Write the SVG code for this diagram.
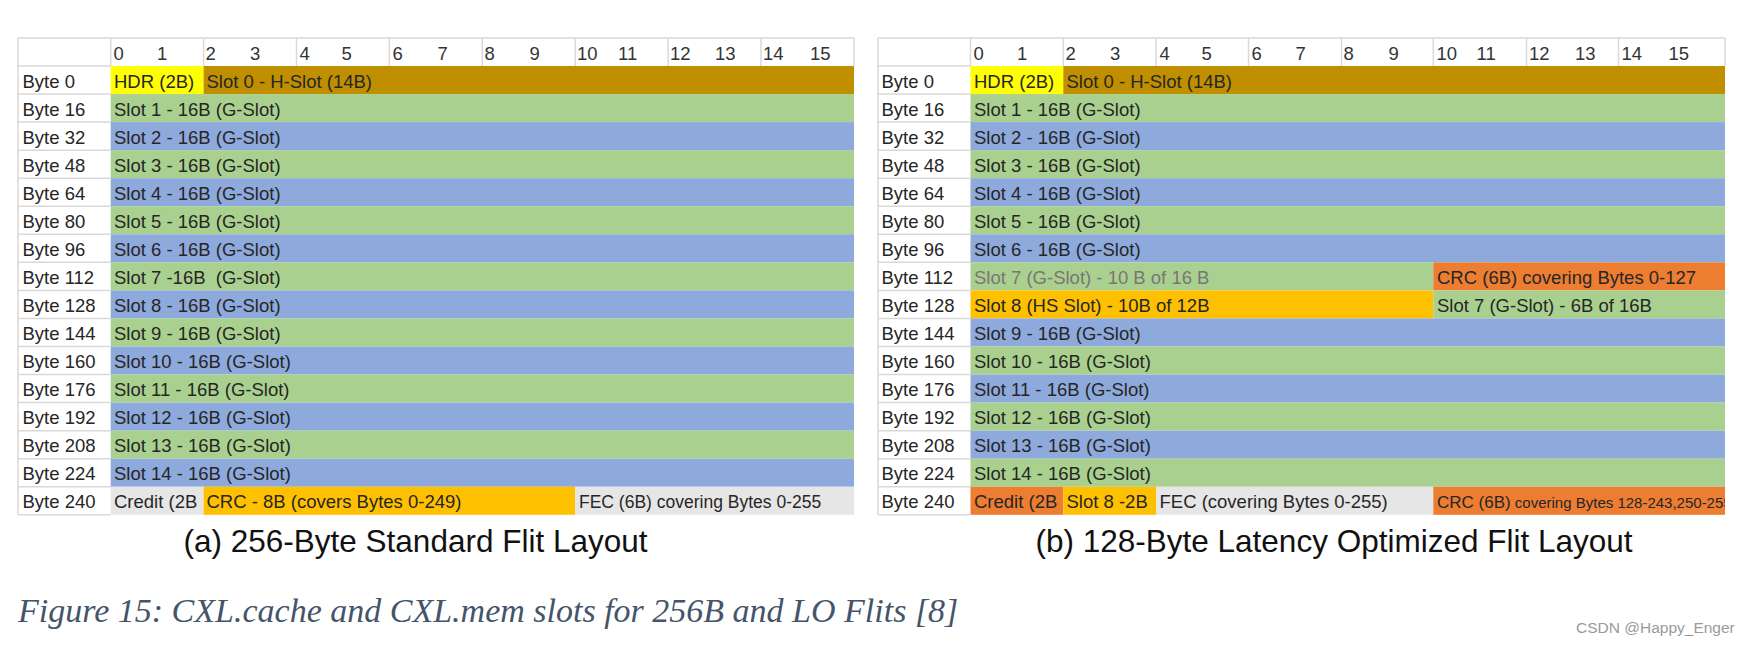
<svg xmlns="http://www.w3.org/2000/svg" width="1750" height="645" viewBox="0 0 1750 645">
<style>
.t{font-family:"Liberation Sans",Arial,sans-serif;font-size:18.5px;fill:#262626}
.hd{fill:#333}
.sm{font-size:17.5px}
.xs{font-size:15px}
.gr{fill:#7A7676}
.cap{font-family:"Liberation Sans",Arial,sans-serif;font-size:31.5px;fill:#111;text-anchor:middle}
.fig{font-family:"Liberation Serif","Times New Roman",serif;font-style:italic;font-size:34px;fill:#44546A}
.wm{font-family:"Liberation Sans",Arial,sans-serif;font-size:15.5px;fill:#9a9a9a}
.G{fill:#A9D08E}.B{fill:#8EA9DB}.Y{fill:#FFFF00}.D{fill:#BF8F00}.O{fill:#ED7D31}.A{fill:#FFC000}.E{fill:#E7E6E6}
.ln{stroke:#D9D9D9;stroke-width:1.5;fill:none}
</style>
<defs>
<clipPath id="clipA"><rect x="110.7" y="486.75" width="92.9" height="28.05"/></clipPath>
<clipPath id="clipB1"><rect x="970.5" y="486.75" width="92.8" height="28.05"/></clipPath>
<clipPath id="clipB2"><rect x="1433.3" y="486.75" width="291.7" height="28.05"/></clipPath>
</defs>
<rect width="1750" height="645" fill="#fff"/>

<!-- ===== Panel (a) ===== -->
<g id="panel-a">
<g id="a-grid">
<rect x="18" y="38" width="836" height="476.8" fill="#fff"/>
<path class="ln" d="M18 38H854M18 38V514.8M18 514.8H110.7M110.7 38V66M203.6 38V66M296.5 38V66M389.4 38V66M482.3 38V66M575.2 38V66M668.1 38V66M761 38V66M854 38V66M18 66H110.7M18 94.05H110.7M18 122.1H110.7M18 150.15H110.7M18 178.2H110.7M18 206.25H110.7M18 234.3H110.7M18 262.35H110.7M18 290.4H110.7M18 318.45H110.7M18 346.5H110.7M18 374.55H110.7M18 402.6H110.7M18 430.65H110.7M18 458.7H110.7M18 486.75H110.7"/>
</g>
<g id="a-header" class="t hd">
<text x="113.5" y="60">0</text><text x="157" y="60">1</text><text x="205.5" y="60">2</text><text x="250" y="60">3</text>
<text x="299.5" y="60">4</text><text x="341.5" y="60">5</text><text x="392.5" y="60">6</text><text x="437.5" y="60">7</text>
<text x="484.5" y="60">8</text><text x="529.5" y="60">9</text><text x="577" y="60">10</text><text x="618" y="60">11</text>
<text x="670" y="60">12</text><text x="715" y="60">13</text><text x="763" y="60">14</text><text x="810" y="60">15</text>
</g>
<g id="a-labels" class="t">
<text x="22.5" y="87.5">Byte 0</text><text x="22.5" y="115.55">Byte 16</text><text x="22.5" y="143.6">Byte 32</text><text x="22.5" y="171.65">Byte 48</text>
<text x="22.5" y="199.7">Byte 64</text><text x="22.5" y="227.75">Byte 80</text><text x="22.5" y="255.8">Byte 96</text><text x="22.5" y="283.85">Byte 112</text>
<text x="22.5" y="311.9">Byte 128</text><text x="22.5" y="339.95">Byte 144</text><text x="22.5" y="368">Byte 160</text><text x="22.5" y="396.05">Byte 176</text>
<text x="22.5" y="424.1">Byte 192</text><text x="22.5" y="452.15">Byte 208</text><text x="22.5" y="480.2">Byte 224</text><text x="22.5" y="508.25">Byte 240</text>
</g>
<g id="a-hdr"><rect class="Y" x="110.7" y="66" width="92.9" height="28.05"/><text class="t" x="114" y="87.5">HDR (2B)</text></g>
<g id="a-slot0"><rect class="D" x="203.6" y="66" width="650.4" height="28.05"/><text class="t" x="206.5" y="87.5">Slot 0 - H-Slot (14B)</text></g>
<g id="a-slot1"><rect class="G" x="110.7" y="94.05" width="743.3" height="28.05"/><text class="t" x="114" y="115.55">Slot 1 - 16B (G-Slot)</text></g>
<g id="a-slot2"><rect class="B" x="110.7" y="122.1" width="743.3" height="28.05"/><text class="t" x="114" y="143.6">Slot 2 - 16B (G-Slot)</text></g>
<g id="a-slot3"><rect class="G" x="110.7" y="150.15" width="743.3" height="28.05"/><text class="t" x="114" y="171.65">Slot 3 - 16B (G-Slot)</text></g>
<g id="a-slot4"><rect class="B" x="110.7" y="178.2" width="743.3" height="28.05"/><text class="t" x="114" y="199.7">Slot 4 - 16B (G-Slot)</text></g>
<g id="a-slot5"><rect class="G" x="110.7" y="206.25" width="743.3" height="28.05"/><text class="t" x="114" y="227.75">Slot 5 - 16B (G-Slot)</text></g>
<g id="a-slot6"><rect class="B" x="110.7" y="234.3" width="743.3" height="28.05"/><text class="t" x="114" y="255.8">Slot 6 - 16B (G-Slot)</text></g>
<g id="a-slot7"><rect class="G" x="110.7" y="262.35" width="743.3" height="28.05"/><text class="t" x="114" y="283.85" xml:space="preserve">Slot 7 -16B  (G-Slot)</text></g>
<g id="a-slot8"><rect class="B" x="110.7" y="290.4" width="743.3" height="28.05"/><text class="t" x="114" y="311.9">Slot 8 - 16B (G-Slot)</text></g>
<g id="a-slot9"><rect class="G" x="110.7" y="318.45" width="743.3" height="28.05"/><text class="t" x="114" y="339.95">Slot 9 - 16B (G-Slot)</text></g>
<g id="a-slot10"><rect class="B" x="110.7" y="346.5" width="743.3" height="28.05"/><text class="t" x="114" y="368">Slot 10 - 16B (G-Slot)</text></g>
<g id="a-slot11"><rect class="G" x="110.7" y="374.55" width="743.3" height="28.05"/><text class="t" x="114" y="396.05">Slot 11 - 16B (G-Slot)</text></g>
<g id="a-slot12"><rect class="B" x="110.7" y="402.6" width="743.3" height="28.05"/><text class="t" x="114" y="424.1">Slot 12 - 16B (G-Slot)</text></g>
<g id="a-slot13"><rect class="G" x="110.7" y="430.65" width="743.3" height="28.05"/><text class="t" x="114" y="452.15">Slot 13 - 16B (G-Slot)</text></g>
<g id="a-slot14"><rect class="B" x="110.7" y="458.7" width="743.3" height="28.05"/><text class="t" x="114" y="480.2">Slot 14 - 16B (G-Slot)</text></g>
<g id="a-credit"><rect class="E" x="110.7" y="486.75" width="92.9" height="28.05"/><text class="t" x="114" y="508.25" clip-path="url(#clipA)">Credit (2B</text></g>
<g id="a-crc"><rect class="A" x="203.6" y="486.75" width="371.6" height="28.05"/><text class="t" x="206.5" y="508.25">CRC - 8B (covers Bytes 0-249)</text></g>
<g id="a-fec"><rect class="E" x="575.2" y="486.75" width="278.8" height="28.05"/><text class="t sm" x="579" y="508.25">FEC (6B) covering Bytes 0-255</text></g>
<g id="a-caption"><text class="cap" x="415.5" y="551.5">(a) 256-Byte Standard Flit Layout</text></g>
</g>

<!-- ===== Panel (b) ===== -->
<g id="panel-b">
<g id="b-grid">
<rect x="878" y="38" width="847" height="476.8" fill="#fff"/>
<path class="ln" d="M878 38H1725M878 38V514.8M878 514.8H970.5M970.5 38V66M1063.3 38V66M1156 38V66M1248.5 38V66M1341.5 38V66M1433.3 38V66M1526.5 38V66M1618.5 38V66M1725 38V66M878 66H970.5M878 94.05H970.5M878 122.1H970.5M878 150.15H970.5M878 178.2H970.5M878 206.25H970.5M878 234.3H970.5M878 262.35H970.5M878 290.4H970.5M878 318.45H970.5M878 346.5H970.5M878 374.55H970.5M878 402.6H970.5M878 430.65H970.5M878 458.7H970.5M878 486.75H970.5"/>
</g>
<g id="b-header" class="t hd">
<text x="973.5" y="60">0</text><text x="1017" y="60">1</text><text x="1065.5" y="60">2</text><text x="1110" y="60">3</text>
<text x="1159.5" y="60">4</text><text x="1201.5" y="60">5</text><text x="1251.5" y="60">6</text><text x="1295.5" y="60">7</text>
<text x="1343.5" y="60">8</text><text x="1388.5" y="60">9</text><text x="1436.5" y="60">10</text><text x="1476.5" y="60">11</text>
<text x="1529" y="60">12</text><text x="1575" y="60">13</text><text x="1621.5" y="60">14</text><text x="1668.5" y="60">15</text>
</g>
<g id="b-labels" class="t">
<text x="881.5" y="87.5">Byte 0</text><text x="881.5" y="115.55">Byte 16</text><text x="881.5" y="143.6">Byte 32</text><text x="881.5" y="171.65">Byte 48</text>
<text x="881.5" y="199.7">Byte 64</text><text x="881.5" y="227.75">Byte 80</text><text x="881.5" y="255.8">Byte 96</text><text x="881.5" y="283.85">Byte 112</text>
<text x="881.5" y="311.9">Byte 128</text><text x="881.5" y="339.95">Byte 144</text><text x="881.5" y="368">Byte 160</text><text x="881.5" y="396.05">Byte 176</text>
<text x="881.5" y="424.1">Byte 192</text><text x="881.5" y="452.15">Byte 208</text><text x="881.5" y="480.2">Byte 224</text><text x="881.5" y="508.25">Byte 240</text>
</g>
<g id="b-hdr"><rect class="Y" x="970.5" y="66" width="92.8" height="28.05"/><text class="t" x="974" y="87.5">HDR (2B)</text></g>
<g id="b-slot0"><rect class="D" x="1063.3" y="66" width="661.7" height="28.05"/><text class="t" x="1066.5" y="87.5">Slot 0 - H-Slot (14B)</text></g>
<g id="b-slot1"><rect class="G" x="970.5" y="94.05" width="754.5" height="28.05"/><text class="t" x="974" y="115.55">Slot 1 - 16B (G-Slot)</text></g>
<g id="b-slot2"><rect class="B" x="970.5" y="122.1" width="754.5" height="28.05"/><text class="t" x="974" y="143.6">Slot 2 - 16B (G-Slot)</text></g>
<g id="b-slot3"><rect class="G" x="970.5" y="150.15" width="754.5" height="28.05"/><text class="t" x="974" y="171.65">Slot 3 - 16B (G-Slot)</text></g>
<g id="b-slot4"><rect class="B" x="970.5" y="178.2" width="754.5" height="28.05"/><text class="t" x="974" y="199.7">Slot 4 - 16B (G-Slot)</text></g>
<g id="b-slot5"><rect class="G" x="970.5" y="206.25" width="754.5" height="28.05"/><text class="t" x="974" y="227.75">Slot 5 - 16B (G-Slot)</text></g>
<g id="b-slot6"><rect class="B" x="970.5" y="234.3" width="754.5" height="28.05"/><text class="t" x="974" y="255.8">Slot 6 - 16B (G-Slot)</text></g>
<g id="b-slot7a"><rect class="G" x="970.5" y="262.35" width="462.8" height="28.05"/><text class="t gr" x="974" y="283.85">Slot 7 (G-Slot) - 10 B of 16 B</text></g>
<g id="b-crc1"><rect class="O" x="1433.3" y="262.35" width="291.7" height="28.05"/><text class="t" x="1437" y="283.85">CRC (6B) covering Bytes 0-127</text></g>
<g id="b-slot8"><rect class="A" x="970.5" y="290.4" width="462.8" height="28.05"/><text class="t" x="974" y="311.9">Slot 8 (HS Slot) - 10B of 12B</text></g>
<g id="b-slot7b"><rect class="G" x="1433.3" y="290.4" width="291.7" height="28.05"/><text class="t" x="1437" y="311.9">Slot 7 (G-Slot) - 6B of 16B</text></g>
<g id="b-slot9"><rect class="B" x="970.5" y="318.45" width="754.5" height="28.05"/><text class="t" x="974" y="339.95">Slot 9 - 16B (G-Slot)</text></g>
<g id="b-slot10"><rect class="G" x="970.5" y="346.5" width="754.5" height="28.05"/><text class="t" x="974" y="368">Slot 10 - 16B (G-Slot)</text></g>
<g id="b-slot11"><rect class="B" x="970.5" y="374.55" width="754.5" height="28.05"/><text class="t" x="974" y="396.05">Slot 11 - 16B (G-Slot)</text></g>
<g id="b-slot12"><rect class="G" x="970.5" y="402.6" width="754.5" height="28.05"/><text class="t" x="974" y="424.1">Slot 12 - 16B (G-Slot)</text></g>
<g id="b-slot13"><rect class="B" x="970.5" y="430.65" width="754.5" height="28.05"/><text class="t" x="974" y="452.15">Slot 13 - 16B (G-Slot)</text></g>
<g id="b-slot14"><rect class="G" x="970.5" y="458.7" width="754.5" height="28.05"/><text class="t" x="974" y="480.2">Slot 14 - 16B (G-Slot)</text></g>
<g id="b-credit"><rect class="O" x="970.5" y="486.75" width="92.8" height="28.05"/><text class="t" x="974" y="508.25" clip-path="url(#clipB1)">Credit (2B</text></g>
<g id="b-slot8b"><rect class="A" x="1063.3" y="486.75" width="92.7" height="28.05"/><text class="t" x="1066.5" y="508.25">Slot 8 -2B</text></g>
<g id="b-fec"><rect class="E" x="1156" y="486.75" width="277.3" height="28.05"/><text class="t" x="1159.5" y="508.25">FEC (covering Bytes 0-255)</text></g>
<g id="b-crc2"><rect class="O" x="1433.3" y="486.75" width="291.7" height="28.05"/><text class="t" x="1437" y="508.25" clip-path="url(#clipB2)"><tspan font-size="17px">CRC (6B)</tspan><tspan class="xs"> covering Bytes 128-243,250-255</tspan></text></g>
<g id="b-caption"><text class="cap" x="1334" y="551.5">(b) 128-Byte Latency Optimized Flit Layout</text></g>
</g>

<g id="figure-caption"><text class="fig" x="18" y="621.5">Figure 15: CXL.cache and CXL.mem slots for 256B and LO Flits [8]</text></g>
<g id="watermark"><text class="wm" x="1576" y="632.5">CSDN @Happy_Enger</text></g>
</svg>
